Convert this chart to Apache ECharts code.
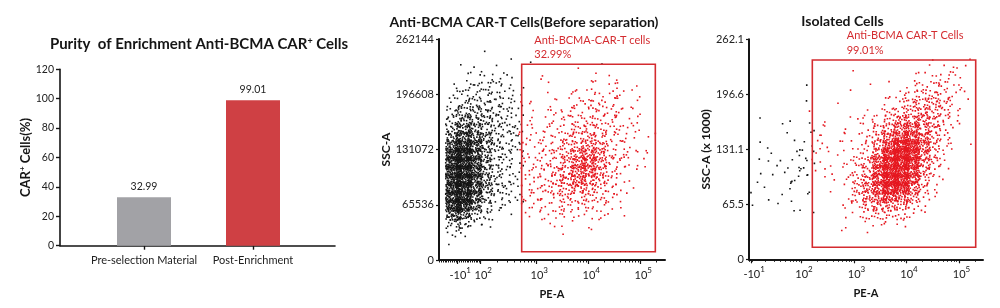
<!DOCTYPE html>
<html>
<head>
<meta charset="utf-8">
<script src="https://cdn.jsdelivr.net/npm/echarts@6/dist/echarts.min.js"></script>
<style>
  html, body { margin: 0; padding: 0; background: #fff; }
  #main { width: 1000px; height: 308px; }
</style>
</head>
<body>
<div id="main"></div>
<script>
  // ---- bar panel ----
  const barCategories = ['Pre-selection Material', 'Post-Enrichment'];
  const barValues = [32.99, 99.01];

  // ---- flow panels: axis ticks (x in display decades) ----
  const decadeLabels = ['-10{s|1}', '10{s|2}', '10{s|3}', '10{s|4}', '10{s|5}'];
  const beforeXTicks = [1.48, 1.923, 3, 4, 5];
  const afterXTicks = [1.05, 2, 3, 4, 5];
  const beforeYTicks = [0, 65536, 131072, 196608, 262144];
  const beforeYLabels = ['0', '65536', '131072', '196608', '262144'];
  const afterYTicks = [0, 65.536, 131.072, 196.608, 262.144];
  const afterYLabels = ['0', '65.5', '131.1', '196.6', '262.1'];

  // gates: [xMin, yMin, xMax, yMax]
  const beforeGate = [2.711, 9845, 5.281, 232130];
  const afterGate = [2.206, 14.3, 5.318, 237.4];
  const beforeGateText = ['Anti-BCMA-CAR-T cells', '32.99%'];
  const afterGateText = ['Anti-BCMA CAR-T Cells', '99.01%'];

  // event density (0-9), top row first
  // before: columns start at x=1.2 step 0.2, rows start at y=255000 step 10000
  const beforeDensity = [
    '0000000000000000000000',
    '0000100000000000000000',
    '0001001001000001000000',
    '0011111000000100100000',
    '0012222101100011110000',
    '0123332100100112211000',
    '0233332210111222221100',
    '0344433211112233221100',
    '0455443211122333321100',
    '0566543311223333322100',
    '0676543321223444322110',
    '0787643322234454322100',
    '0898643322234565322100',
    '0998643222345676432100',
    '0998643222345776422110',
    '0998643223345776321000',
    '0998643222356765321000',
    '0998643223345654321000',
    '0998532222334443220000',
    '0997432122233332210000',
    '0875321012222222110000',
    '0653110001111111000000',
    '0321000000011010000000',
    '0110000000000000000000'
  ];
  // after: columns start at x=1.1 step 0.2, rows start at y=255 step 10
  const afterDensity = [
    '0000000000000000000000',
    '0000000000000000000000',
    '0000000000000000010110',
    '0000000000100000112210',
    '0000000000000101222210',
    '0000010000010012333210',
    '0000010001000123443210',
    '0000000010001234554210',
    '0000001000112345554200',
    '1000111101123566653210',
    '0001011111124677653100',
    '0101111111235788753100',
    '0010121111236899752110',
    '0101122111247999742000',
    '1011121112358999642000',
    '0111121112358998631000',
    '1011211012468998521000',
    '0101110002468997420000',
    '1010110012467876310000',
    '1101100002356654200000',
    '0000110001234432100000',
    '0000000001122221000000',
    '0000000010010100000000'
  ];

  // ---- styles ----
  const FONT = 'Lato, "Open Sans", sans-serif';
  const INK = '#151515';
  const RED = '#e5171f';
  const GATE_RED = '#d42b2f';
  const BAR_COLORS = ['#a2a2a6', '#cf4044'];
  const DOTS = [0, 1, 3, 5, 8, 12, 18, 27, 42, 66];
  const DOT = 1.6;
  const SPREAD = 1.5; // speckle spills a little past its cell so cells blend

  // speckle texture for a density cell (Halton layout, no randomness)
  function halton(i, b) {
    let f = 1, r = 0;
    while (i > 0) { f /= b; r += f * (i % b); i = Math.floor(i / b); }
    return r;
  }
  const SPECKLE = Array.from({ length: 512 }, (_, n) => [halton(n + 1, 2), halton(n + 1, 3)]);

  function splitCells(map, x0, dx, yTop, dy, gate) {
    const inside = [], outside = [];
    map.forEach((row, r) => {
      for (let c = 0; c < row.length; c++) {
        const lv = +row[c];
        if (!lv) continue;
        const x = x0 + dx * c, y = yTop - dy * r;
        const inGate = x >= gate[0] && x <= gate[2] && y >= gate[1] && y <= gate[3];
        (inGate ? inside : outside).push([x, y, lv]);
      }
    });
    return { inside, outside };
  }

  function speckle(color, dx, dy) {
    return function (params, api) {
      const c = api.coord([api.value(0), api.value(1)]);
      const s = api.size([dx, dy]);
      const w = s[0] * SPREAD, h = s[1] * SPREAD;
      const n = DOTS[api.value(2)];
      const start = (params.dataIndex * 61) % SPECKLE.length;
      const children = [];
      for (let i = 0; i < n; i++) {
        const t = SPECKLE[(start + i) % SPECKLE.length];
        children.push({
          type: 'rect',
          shape: { x: c[0] - w / 2 + t[0] * w - DOT / 2, y: c[1] - h / 2 + t[1] * h - DOT / 2, width: DOT, height: DOT },
          style: { fill: color }
        });
      }
      return { type: 'group', children: children };
    };
  }

  function gateRender(text, dxText, dyText, lineH) {
    return function (params, api) {
      const p0 = api.coord([api.value(0), api.value(3)]);
      const p1 = api.coord([api.value(2), api.value(1)]);
      return {
        type: 'group',
        children: [
          { type: 'rect', shape: { x: p0[0], y: p0[1], width: p1[0] - p0[0], height: p1[1] - p0[1] },
            style: { fill: 'none', stroke: GATE_RED, lineWidth: 1.6 } },
          { type: 'text', x: p0[0] + dxText, y: p0[1] + dyText,
            style: { text: text.join('\n'), fill: GATE_RED, fontFamily: FONT, fontSize: 11, lineHeight: lineH, verticalAlign: 'top' } }
        ]
      };
    };
  }

  function minorTicks(segments, lo, hi) {
    // axis decoration: log minor ticks between decade positions
    const out = [];
    segments.forEach(([a, b]) => {
      for (let m = 2; m <= 9; m++) out.push(a + (b - a) * Math.log10(m));
    });
    for (let v = lo; v < hi; v += 0.035) out.push(v);
    return out;
  }

  const before = splitCells(beforeDensity, 1.2, 0.2, 255000, 10000, beforeGate);
  const after = splitCells(afterDensity, 1.1, 0.2, 255, 10, afterGate);

  const supRich = { s: { fontFamily: FONT, fontSize: 8, color: INK, verticalAlign: 'top', lineHeight: 8 } };
  const tickLabelStyle = { fontFamily: FONT, fontSize: 11, color: '#222' };

  function decadeLabel(ticks, shown) {
    return Object.assign({}, tickLabelStyle, {
      customValues: shown, margin: 6, padding: [0, 0, 0, 5], lineHeight: 18,
      showMinLabel: true, showMaxLabel: true, hideOverlap: false,
      formatter: v => decadeLabels[ticks.indexOf(v)] || '',
      rich: supRich
    });
  }
  // main axis: line, decade ticks, labels from 10^2 up
  function flowXAxis(grid, min, max, ticks) {
    return {
      gridIndex: grid, type: 'value', position: 'bottom', min: min, max: max,
      name: 'PE-A', nameLocation: 'middle', nameGap: 22,
      nameTextStyle: { fontFamily: FONT, fontSize: 11, fontWeight: 'bold', color: INK },
      axisLine: { lineStyle: { color: INK, width: 2 } },
      axisTick: { customValues: ticks, length: 4, lineStyle: { color: INK, width: 1.2 } },
      axisLabel: decadeLabel(ticks, ticks.slice(1)),
      splitLine: { show: false }
    };
  }
  // companion axis: minor ticks and the -10^1 label
  function flowMinorAxis(grid, min, max, ticks, minor) {
    return {
      gridIndex: grid, type: 'value', position: 'bottom', offset: 0, min: min, max: max,
      axisLine: { show: false }, splitLine: { show: false },
      axisLabel: decadeLabel(ticks, ticks.slice(0, 1)),
      axisTick: { customValues: minor, length: 2.5, lineStyle: { color: INK, width: 1 } }
    };
  }
  function flowYAxis(grid, max, ticks, labels, name, gap) {
    return {
      gridIndex: grid, type: 'value', min: 0, max: max,
      name: name, nameLocation: 'middle', nameGap: gap,
      nameTextStyle: { fontFamily: FONT, fontSize: 12, fontWeight: 'bold', color: INK },
      axisLine: { show: true, lineStyle: { color: INK, width: 2 } },
      axisTick: { show: true, customValues: ticks, length: 3, lineStyle: { color: INK, width: 1.2 } },
      axisLabel: Object.assign({}, tickLabelStyle, {
        customValues: ticks, margin: 5, showMinLabel: true, showMaxLabel: true,
        formatter: v => labels[ticks.indexOf(v)] || ''
      }),
      splitLine: { show: false }
    };
  }

  const chart = echarts.init(document.getElementById('main'));
  chart.setOption({
    animation: false,
    backgroundColor: '#fff',
    graphic: [
      { type: 'text', x: 199, y: 44, style: { text: 'Purity  of Enrichment Anti-BCMA CAR{s|+} Cells', fontFamily: FONT, fontSize: 15, fontWeight: 'bold', fill: INK, align: 'center', verticalAlign: 'middle',
        rich: { s: { fontFamily: FONT, fontSize: 9, fontWeight: 'bold', fill: INK, verticalAlign: 'top', lineHeight: 9 } } } },
      { type: 'text', x: 524, y: 22.7, style: { text: 'Anti-BCMA CAR-T Cells(Before separation)', fontFamily: FONT, fontSize: 14, fontWeight: 'bold', fill: INK, align: 'center', verticalAlign: 'middle' } },
      { type: 'text', x: 842.5, y: 21.7, style: { text: 'Isolated Cells', fontFamily: FONT, fontSize: 14, fontWeight: 'bold', fill: INK, align: 'center', verticalAlign: 'middle' } }
    ],
    grid: [
      { left: 60, top: 69.3, width: 275, height: 176.4, outerBoundsMode: 'none' },
      { left: 89.5, top: 69.3, width: 218, height: 176.4, outerBoundsMode: 'none' },
      { left: 439, top: 39, width: 226, height: 221, outerBoundsMode: 'none' },
      { left: 749, top: 39.3, width: 234, height: 220, outerBoundsMode: 'none' }
    ],
    xAxis: [
      { gridIndex: 0, type: 'value', min: 0, max: 1,
        axisLine: { show: true, lineStyle: { color: INK, width: 1.6 } },
        axisTick: { show: false }, axisLabel: { show: false }, splitLine: { show: false } },
      { gridIndex: 1, type: 'category', data: barCategories,
        axisLine: { show: false },
        axisTick: { show: true, alignWithLabel: true, length: 4, lineStyle: { color: INK, width: 1.4 } },
        axisLabel: { fontFamily: FONT, fontSize: 11, color: '#222', margin: 9, interval: 0 },
        splitLine: { show: false } },
      flowXAxis(2, 1.121, 5.467, beforeXTicks),
      flowMinorAxis(2, 1.121, 5.467, beforeXTicks,
        minorTicks([[1.923, 3], [3, 4], [4, 5], [5, 6]], 1.13, 1.9).filter(v => v < 5.467)),
      flowXAxis(3, 1.0, 5.457, afterXTicks),
      flowMinorAxis(3, 1.0, 5.457, afterXTicks,
        minorTicks([[1, 2], [2, 3], [3, 4], [4, 5], [5, 6]], 1.0, 1.1).filter(v => v < 5.457))
    ],
    yAxis: [
      { gridIndex: 0, type: 'value', min: 0, max: 120, interval: 20,
        name: 'CAR{s|+} Cells(%)', nameLocation: 'middle', nameGap: 27,
        nameTextStyle: { fontFamily: FONT, fontSize: 13, fontWeight: 'bold', color: INK,
          rich: { s: { fontFamily: FONT, fontSize: 8, fontWeight: 'bold', color: INK, verticalAlign: 'top', lineHeight: 8 } } },
        axisLine: { show: true, lineStyle: { color: INK, width: 1.6 } },
        axisTick: { show: true, length: 4, lineStyle: { color: INK, width: 1.4 } },
        axisLabel: { fontFamily: FONT, fontSize: 10.5, color: '#222', margin: 6 },
        splitLine: { show: false } },
      { gridIndex: 1, type: 'value', min: 0, max: 120, show: false },
      flowYAxis(2, 262144, beforeYTicks, beforeYLabels, 'SSC-A', 44),
      flowYAxis(3, 262.144, afterYTicks, afterYLabels, 'SSC-A (x 1000)', 32)
    ],
    series: [
      { type: 'bar', xAxisIndex: 1, yAxisIndex: 1, barWidth: 54,
        data: barValues.map((v, i) => ({ value: v, itemStyle: { color: BAR_COLORS[i] } })),
        label: { show: true, position: 'top', distance: 5, fontFamily: FONT, fontSize: 10.5, color: '#222',
          formatter: p => p.value.toFixed(2) } },
      { type: 'custom', xAxisIndex: 2, yAxisIndex: 2, silent: true, clip: true,
        encode: { x: 0, y: 1 }, data: before.outside, renderItem: speckle(INK, 0.2, 10000) },
      { type: 'custom', xAxisIndex: 2, yAxisIndex: 2, silent: true, clip: true,
        encode: { x: 0, y: 1 }, data: before.inside, renderItem: speckle(RED, 0.2, 10000) },
      { type: 'custom', xAxisIndex: 2, yAxisIndex: 2, silent: true, z: 5,
        encode: { x: [0, 2], y: [1, 3] }, data: [beforeGate], renderItem: gateRender(beforeGateText, 12.6, -30.4, 13.6) },
      { type: 'custom', xAxisIndex: 4, yAxisIndex: 3, silent: true, clip: true,
        encode: { x: 0, y: 1 }, data: after.outside, renderItem: speckle(INK, 0.2, 10) },
      { type: 'custom', xAxisIndex: 4, yAxisIndex: 3, silent: true, clip: true,
        encode: { x: 0, y: 1 }, data: after.inside, renderItem: speckle(RED, 0.2, 10) },
      { type: 'custom', xAxisIndex: 4, yAxisIndex: 3, silent: true, z: 5,
        encode: { x: [0, 2], y: [1, 3] }, data: [afterGate], renderItem: gateRender(afterGateText, 34.4, -31.8, 15) }
    ]
  });
</script>
</body>
</html>
